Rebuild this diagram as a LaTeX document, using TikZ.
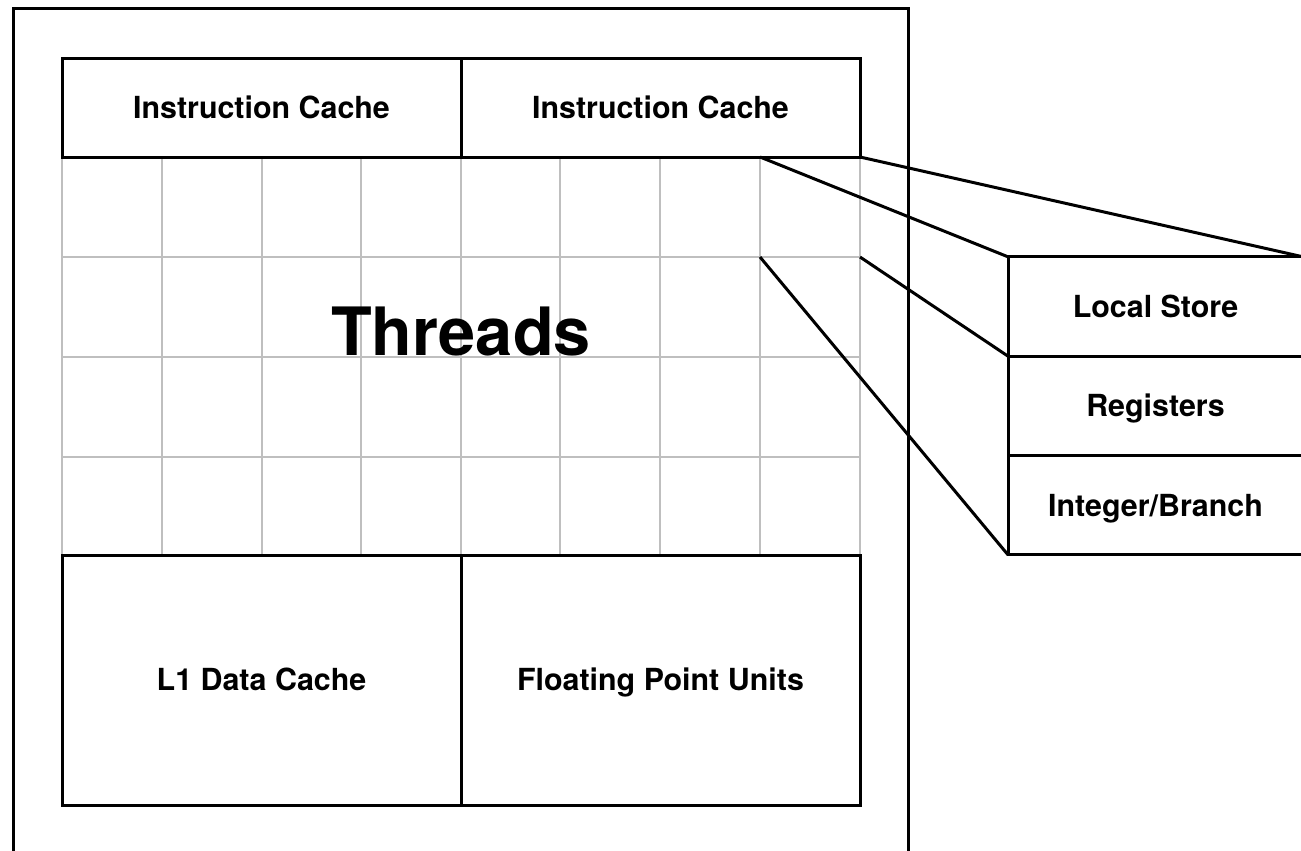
\documentclass[tikz,border=0pt]{standalone}
\usepackage{fontspec}
\setmainfont{TeX Gyre Heros}
\begin{document}
\begin{tikzpicture}[x=0.75pt,y=-0.75pt,
  box/.style={draw=black,line width=2.25pt,inner sep=0pt,outer sep=0pt,
    text height=16.4pt,text depth=0pt,
    font=\fontsize{22.8}{27}\selectfont\bfseries},
  halfbox/.style={box,minimum width=299.25pt},
  sidebox/.style={box,minimum width=221.25pt,minimum height=74.5pt},
  gridline/.style={draw=black!25,line width=1.5pt},
  conn/.style={draw=black,line width=2.25pt},
  frame/.style={draw=black,line width=2.25pt}]
\useasboundingbox (0,0) rectangle (1301,850);
\clip (0,0) rectangle (1301,850);

% outer chip outline (runs past the lower edge)
\draw[frame] (13,8) rectangle (908,900);

% thread grid
\foreach \gx in {62,162,262,361,461,560,660,760,860}
  \draw[gridline] (\gx,157) -- (\gx,555);
\foreach \gy in {257,357,457}
  \draw[gridline] (62,\gy) -- (860,\gy);

\node[font=\fontsize{50}{60}\selectfont\bfseries,text height=36pt,text depth=0pt,inner sep=0pt]
  (threads) at (461,331) {Threads};

% caches and units
\node[halfbox,minimum height=74.25pt] (ic1) at (261.5,107.5) {Instruction Cache};
\node[halfbox,minimum height=74.25pt] (ic2) at (660.5,107.5) {Instruction Cache};
\node[halfbox,minimum height=187.5pt] (l1) at (261.5,680) {L1 Data Cache};
\node[halfbox,minimum height=187.5pt] (fpu) at (660.5,680) {Floating Point Units};

% zoomed-in thread
\node[sidebox] (ls) at (1155.5,306.5) {Local Store};
\node[sidebox,anchor=north] (reg) at (ls.south) {Registers};
\node[sidebox,anchor=north] (ib) at (reg.south) {Integer/Branch};

% corners of the highlighted grid cell
\coordinate (cellNW) at (760,157);
\coordinate (cellSW) at (760,257);
\coordinate (cellSE) at (860,257);

\draw[conn] (cellNW) -- (ls.north west);
\draw[conn] (ic2.south east) -- (ls.north east);
\draw[conn] (cellSE) -- (ls.south west);
\draw[conn] (cellSW) -- (ib.south west);
\end{tikzpicture}
\end{document}
